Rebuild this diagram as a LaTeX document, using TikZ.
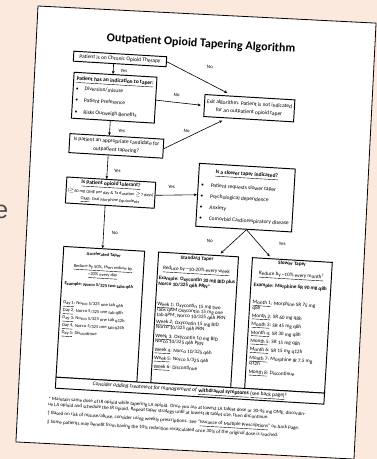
\documentclass[tikz,border=0pt]{standalone}
\usepackage{fontspec}
\setmainfont{Carlito}
\newfontfamily\fragfont{Liberation Sans}
\usetikzlibrary{arrows.meta,calc}
\definecolor{peach}{RGB}{252,233,222}
\newcommand{\fsz}[2]{\fontsize{#1}{#2}\selectfont\lineskiplimit=-8pt\relax}

\begin{document}
\begin{tikzpicture}[x=1pt,y=1pt,
    box/.style={draw,line width=0.95pt,fill=white,inner sep=1.5pt,font=\fsz{5.5}{6}},
    txt/.style={anchor=north,inner sep=0pt,align=left},
    flow/.style={line width=0.6pt,-{Stealth[length=3.2pt,width=2.8pt]}},
    lbl/.style={inner sep=0pt,font=\fsz{5}{5}}]
  \useasboundingbox (0,0) rectangle (377,-459);
  \fill[peach] (0,0) rectangle (377,-459);
  \node[anchor=base east,inner sep=0pt,text=black!70,font=\fragfont\fontsize{25}{25}\selectfont] (frag) at (8.5,-218) {e};
  % the sheet
  \begin{scope}[shift={(38,-6)},rotate=-2.9]
    \draw[fill=white,line width=0.8pt] (0,0) rectangle (338.5,-436.5);
  \end{scope}
  \begin{scope}[shift={(38,-6)},rotate=-3.4,transform shape]
    \node[font=\bfseries\fsz{12}{12}] (title) at (165,-28) {Outpatient Opioid Tapering Algorithm};

    \node[box,minimum width=93pt,minimum height=10pt] (chronic) at (85,-48) {Patient is on Chronic Opioid Therapy};
    \node[box,minimum width=83pt,minimum height=46pt,align=left] (indic) at (81.5,-87) {%
      \underline{\textbf{Patient has an indication to taper:}}\\[4pt]
      \textbullet\hspace{6pt}Diversion/misuse\\[5.7pt]
      \textbullet\hspace{6pt}Patient Preference\\[5.7pt]
      \textbullet\hspace{6pt}Risks Outweigh Benefits};
    \node[box,minimum width=90pt,minimum height=22pt,align=center] (exitalg) at (217,-89.5) {%
      Exit algorithm. Patient is not indicated\\[2pt]for an outpatient opioid taper};
    \node[box,minimum width=94pt,minimum height=19pt,align=center] (cand) at (86.5,-135) {%
      Is patient an appropriate candidate for\\[2.5pt]outpatient tapering?};
    \node[box,minimum width=87pt,minimum height=26pt,align=center] (toler) at (83.5,-182) {%
      \underline{\textbf{Is patient opioid tolerant?}}\\[3pt]
      {\fsz{4.4}{4.4}(\ensuremath{\geq}60 mg OME per day \& Tx duration \ensuremath{\geq}7 days)}\\[1.2pt]
      {\fsz{4.4}{4.4}\underline{OME}: Oral Morphine Equivalents}};
    \node[box,minimum width=96pt,minimum height=63pt,align=left] (slowq) at (218.5,-179) {%
      \makebox[90pt]{\underline{\textbf{Is a slower taper indicated?}}}\\[7.8pt]
      \textbullet\hspace{7pt}Patient requests slower taper\\[5pt]
      \textbullet\hspace{7pt}Psychological dependence\\[5pt]
      \textbullet\hspace{7pt}Anxiety\\[5pt]
      \textbullet\hspace{7pt}Comorbid Cardiorespiratory disease};

    % the three tapers
    \node[box,minimum width=81pt,minimum height=131pt] (acc) at (80.5,-304) {};
    \node[box,minimum width=80pt,minimum height=131pt] (std) at (175,-304) {};
    \node[box,minimum width=80pt,minimum height=131pt] (slw) at (269,-304) {};
    \node[box,minimum width=269pt,minimum height=11pt] (consider) at (174.5,-375) {%
      \textit{Consider adding treatment for management of} \underline{\textbf{withdrawal symptoms}} \underline{(see back page)}\textsuperscript{\textdaggerdbl}};

    \node[txt,font=\fsz{4.6}{4.6}] (acctxt) at (80.5,-242.5) {%
      \makebox[75pt]{\textbf{Accelerated Taper}}\\[7.9pt]
      \makebox[75pt]{\underline{Reduce by 50\%, then reduce by}}\\[2.9pt]
      \makebox[75pt]{\underline{\textasciitilde 20\% every day}}\\[6.4pt]
      \textbf{Example: Norco 5/325 two tabs q6h}\\[14.4pt]
      \underline{Day 1}: Norco 5/325 one tab q6h\\[2.9pt]
      \underline{Day 2}: Norco 5/325 one tab q8h\\[2.9pt]
      \underline{Day 3}: Norco 5/325 one tab q12h\\[2.9pt]
      \underline{Day 4}: Norco 5/325 one tab q24h\\[2.9pt]
      \underline{Day 5}: Discontinue};
    \node[txt,font=\fsz{5.2}{5.1}] (stdtxt) at (175,-240.3) {%
      \makebox[74pt]{\textbf{Standard Taper}}\\[6.5pt]
      \makebox[74pt]{\underline{Reduce by \textasciitilde 10-20\% every week}}\\[5.1pt]
      \textbf{Example: Oxycontin 30 mg BID plus}\\[0.7pt]
      \textbf{Norco 10/325 q6h PRN*}\\[15.4pt]
      \underline{Week 1}: Oxycontin 15 mg two\\
      tabs qAM Oxycontin 15 mg one\\
      tab qPM, Norco 10/325 q6h PRN\\[2.1pt]
      \underline{Week 2}: Oxycontin 15 mg BID\\
      Norco 10/325 q6h PRN\\[4.1pt]
      \underline{Week 3}: Oxycontin 10 mg BID\\
      Norco 10/325 q6h PRN\\[3.7pt]
      \underline{Week 4}: Norco 10/325 q6h\\[3.2pt]
      \underline{Week 5}: Norco 5/325 q6h\\[3.3pt]
      \underline{Week 6}: Discontinue};
    \node[txt,font=\fsz{5.2}{5.1}] (slwtxt) at (269,-240) {%
      \makebox[74pt]{\textbf{Slower Taper}}\\[6.4pt]
      \makebox[74pt]{\underline{Reduce by \textasciitilde 10\% every month\textsuperscript{\textdagger}}}\\[6.6pt]
      \textbf{Example: Morphine SR 90 mg q8h}\\[12.6pt]
      \underline{Month 1}: Morphine SR 75 mg\\
      q8h\\[3.2pt]
      \underline{Month 2}: SR 60 mg q8h\\[3.3pt]
      \underline{Month 3}: SR 45 mg q8h\\[3.3pt]
      \underline{Month 4}: SR 30 mg q8h\\[3.3pt]
      \underline{Month 5}: SR 15 mg q8h\\[3.3pt]
      \underline{Month 6}: SR 15 mg q12h\\[3.6pt]
      \underline{Month 7}: Morphine IR 7.5 mg\\
      q12h\\[3.8pt]
      \underline{Month 8}: Discontinue};

    \node[anchor=north west,inner sep=0pt,align=left,font=\fsz{5}{5.6}] (notes) at (33.5,-389.3) {%
      * Maintain same dose of IR opioid while tapering LA opioid. Once you are at lowest LA tablet dose or 30-45 mg OME, discontin-\\
      ue LA opioid and schedule the IR opioid. Repeat taper strategy until at lowest IR tablet size, then discontinue.\\[3.1pt]
      \textdagger\ Based on risk of misuse/abuse, consider using weekly prescriptions. See \textquotedblleft\underline{Issuance of Multiple Prescriptions}\textquotedblright\ on back page.\\[3.1pt]
      \textdaggerdbl\ Some patients may benefit from having the 10\% reduction recalculated once 30\% of the original dose is reached.};

    % connectors
    \draw[flow] ($(chronic.south west)!0.435!(chronic.south east)$) -- ($(indic.north west)!0.47!(indic.north east)$);
    \draw[flow] ($(indic.south west)!0.47!(indic.south east)$) -- ($(cand.north west)!0.42!(cand.north east)$);
    \draw[flow] ($(cand.south west)!0.42!(cand.south east)$) -- ($(toler.north west)!0.448!(toler.north east)$);
    \draw[flow] ($(toler.south west)!0.448!(toler.south east)$) -- ($(acc.north west)!0.481!(acc.north east)$);
    \draw[flow,shorten >=6pt] (chronic.east) -- ($(exitalg.north west)!0.31!(exitalg.north east)$);
    \draw[flow,shorten >=3pt] (indic.east) -- (exitalg.west);
    \draw[flow,shorten >=5pt] (cand.east) -- ($(exitalg.south west)!0.26!(exitalg.south east)$);
    \draw[flow] (toler.east) -- (slowq.west);
    \draw[flow,shorten >=2.5pt] ($(slowq.south west)!0.53!(slowq.south east)$) -- ($(std.north west)!0.75!(std.north east)$);
    \draw[flow,shorten >=2.5pt] ($(slowq.south west)!0.53!(slowq.south east)$) -- ($(slw.north west)!0.24!(slw.north east)$);

    \node[lbl] (yes1) at (89.7,-59.5) {Yes};
    \node[lbl] (no1) at (175.3,-50.4) {No};
    \node[lbl] (no2) at (143.7,-80.6) {No};
    \node[lbl] (yes2) at (91,-119.8) {Yes};
    \node[lbl] (no3) at (155.8,-116) {No};
    \node[lbl] (yes3) at (89,-160) {Yes};
    \node[lbl] (yes4) at (144.2,-172.5) {Yes};
    \node[lbl] (no4) at (90.3,-221.7) {No};
    \node[lbl] (no5) at (185.6,-224.1) {No};
    \node[lbl] (yes5) at (258,-223.1) {Yes};
  \end{scope}
\end{tikzpicture}
\end{document}
